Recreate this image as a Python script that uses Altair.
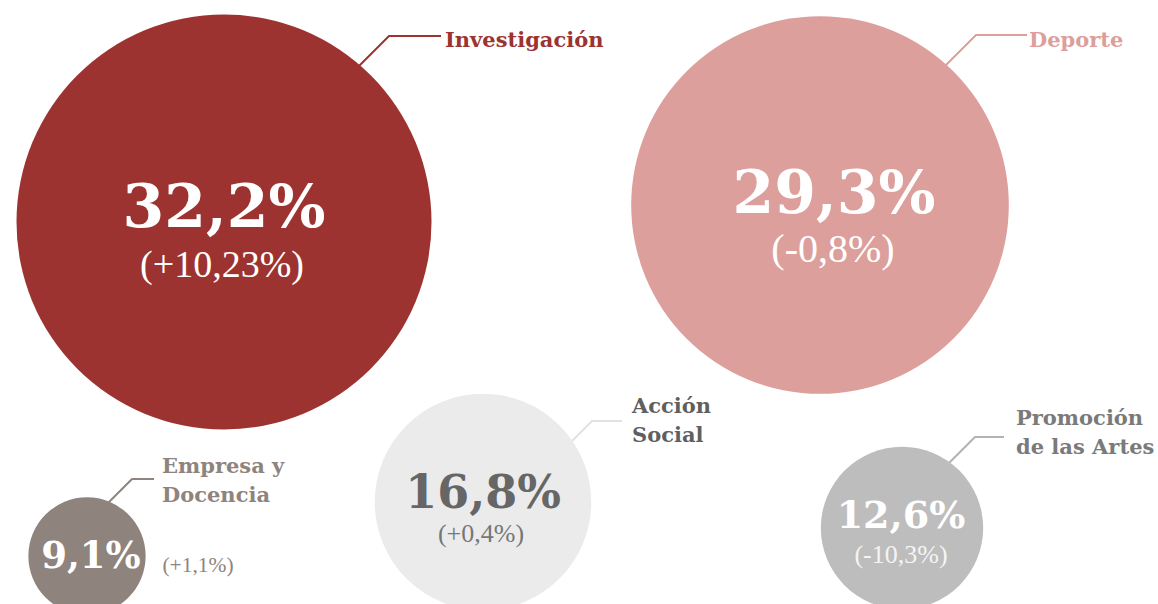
import altair as alt
import pandas as pd

# ---- data ----
categories = ["Investigación", "Deporte", "Acción Social", "Promoción de las Artes", "Empresa y Docencia"]
label_text = ["Investigación", "Deporte", "Acción\nSocial", "Promoción\nde las Artes", "Empresa y\nDocencia"]
values = [32.2, 29.3, 16.8, 12.6, 9.1]
changes = [10.23, -0.8, 0.4, -10.3, 1.1]

# ---- layout (pixel space of a 1158x604 canvas) ----
W, H = 1158, 604
center_x = [224, 820, 483, 902, 87]
center_y = [222, 205, 502, 528, 556]
value_x = [224, 834, 483, 901, 91]
value_y = [227, 213, 508, 528, 568]
value_size = [60, 60, 46, 38, 37]
change_x = [222, 833, 481, 901, 198]
change_y = [277, 262, 542, 563, 572]
change_size = [38, 40, 26, 26, 21.5]
label_x = [445, 1029, 632, 1016, 162]
label_y = [47, 47, 413, 425, 473]
elbow_x = [389, 976, 592, 975, 132]
elbow_y = [36, 35, 421, 437, 479]
line_end_x = [441, 1027, 622, 1004, 154]

# ---- styles ----
circle_color = ["#9c3330", "#dd9f9b", "#ebebeb", "#bdbdbd", "#8f837d"]
value_color = ["#ffffff", "#ffffff", "#666666", "#ffffff", "#ffffff"]
change_color = ["#ffffff", "#ffffff", "#777777", "#f4f4f4", "#8f837d"]
label_color = ["#9c3330", "#dd9f9b", "#5f5f5f", "#7a7a7a", "#8f837d"]
line_color = ["#9c3330", "#dd9f9b", "#e2e2e2", "#b3b3b3", "#8f837d"]


def fmt_value(v):
    return f"{v:.1f}".replace(".", ",") + "%"


def fmt_change(c):
    return "(" + f"{c:+g}".replace(".", ",") + "%)"


df = pd.DataFrame({
    "cat": categories,
    "label": label_text,
    "value": values,
    "value_txt": [fmt_value(v) for v in values],
    "change_txt": [fmt_change(c) for c in changes],
    "cx": center_x, "cy": center_y,
    "vx": value_x, "vy": value_y, "vs": value_size,
    "chx": change_x, "chy": change_y, "chs": change_size,
    "lx": label_x, "ly": label_y,
    "circle_color": circle_color, "value_color": value_color,
    "change_color": change_color, "label_color": label_color,
})

rows = []
for i, c in enumerate(categories):
    L = 40
    pts = [(elbow_x[i] - L, elbow_y[i] + L), (elbow_x[i], elbow_y[i]), (line_end_x[i], elbow_y[i])]
    for k, (px, py) in enumerate(pts):
        rows.append({"cat": c, "k": k, "px": px, "py": py, "color": line_color[i]})
lines_df = pd.DataFrame(rows)

xs = alt.Scale(domain=[0, W], range=[0, W])
ys = alt.Scale(domain=[0, H], range=[0, H])

lines = alt.Chart(lines_df).mark_line(strokeWidth=2).encode(
    x=alt.X("px:Q", scale=xs, axis=None),
    y=alt.Y("py:Q", scale=ys, axis=None),
    detail="cat:N",
    order="k:Q",
    color=alt.Color("color:N", scale=None),
)

base = alt.Chart(df)

circles = base.mark_point(shape="circle", filled=True, opacity=1, strokeWidth=0).encode(
    x=alt.X("cx:Q", scale=xs, axis=None),
    y=alt.Y("cy:Q", scale=ys, axis=None),
    size=alt.Size("value:Q", scale=alt.Scale(type="pow", exponent=2, domain=[0, 32.2], range=[0, 415 ** 2]), legend=None),
    color=alt.Color("circle_color:N", scale=None),
)

value_text = base.mark_text(font="DejaVu Serif", fontWeight="bold", align="center", baseline="alphabetic").encode(
    x=alt.X("vx:Q", scale=xs, axis=None),
    y=alt.Y("vy:Q", scale=ys, axis=None),
    text="value_txt:N",
    size=alt.Size("vs:Q", scale=None),
    color=alt.Color("value_color:N", scale=None),
)

change_text = base.mark_text(font="Liberation Serif", align="center", baseline="alphabetic").encode(
    x=alt.X("chx:Q", scale=xs, axis=None),
    y=alt.Y("chy:Q", scale=ys, axis=None),
    text="change_txt:N",
    size=alt.Size("chs:Q", scale=None),
    color=alt.Color("change_color:N", scale=None),
)

label_text_layer = base.mark_text(font="DejaVu Serif", fontWeight="bold", align="left", baseline="alphabetic",
                                  fontSize=21, lineBreak="\n", lineHeight=29).encode(
    x=alt.X("lx:Q", scale=xs, axis=None),
    y=alt.Y("ly:Q", scale=ys, axis=None),
    text="label:N",
    color=alt.Color("label_color:N", scale=None),
)

chart = alt.layer(lines, circles, value_text, change_text, label_text_layer).properties(
    width=W, height=H, autosize=alt.AutoSizeParams(type="none"), padding=0, background="white"
).configure_view(stroke=None)

chart.save("out.html", embed_options={"renderer": "svg", "actions": False})
